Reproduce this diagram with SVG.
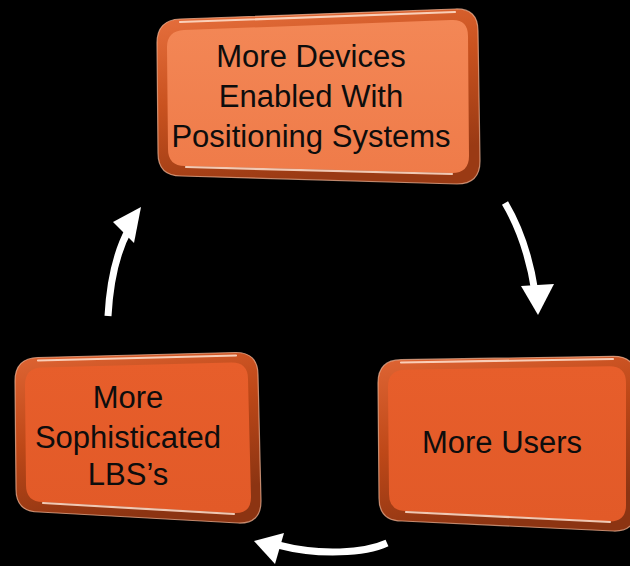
<svg xmlns="http://www.w3.org/2000/svg" width="630" height="566" viewBox="0 0 630 566">
  <defs>
    <linearGradient id="rimTop" x1="0" y1="0" x2="0.35" y2="1">
      <stop offset="0" stop-color="#E8713F"/>
      <stop offset="0.5" stop-color="#C9521F"/>
      <stop offset="1" stop-color="#9A3A14"/>
    </linearGradient>
    <linearGradient id="rimLow" x1="0" y1="0" x2="0.35" y2="1">
      <stop offset="0" stop-color="#DF6534"/>
      <stop offset="0.5" stop-color="#BE4818"/>
      <stop offset="1" stop-color="#8C3412"/>
    </linearGradient>
    <linearGradient id="faceTop" x1="0" y1="0" x2="0" y2="1">
      <stop offset="0" stop-color="#F38756"/>
      <stop offset="1" stop-color="#EF7B49"/>
    </linearGradient>
    <linearGradient id="faceLow" x1="0" y1="0" x2="0" y2="1">
      <stop offset="0" stop-color="#E75E2B"/>
      <stop offset="1" stop-color="#E25A28"/>
    </linearGradient>
  </defs>
  <style>
    .label { font-family: "Liberation Sans", Arial, sans-serif; font-size: 31px; fill: #0d0d0d; text-anchor: middle; }
    .edge { stroke: #F6B898; stroke-width: 1.2; stroke-opacity: 0.7; }
    .gloss { fill: none; stroke: #FFE2D0; stroke-width: 2.2; stroke-opacity: 0.85; stroke-linecap: round; }
    .shaft { fill: none; stroke: #ffffff; stroke-width: 7; stroke-linecap: butt; }
    .head { fill: #ffffff; }
  </style>
  <rect width="630" height="566" fill="#000000"/>

  <g id="connectors">
    <!-- left: up toward the top box -->
    <path class="shaft" d="M108,316 Q111,262 129,229"/>
    <polygon class="head" points="141,207 113,222 134,243"/>
    <!-- right: down toward More Users -->
    <path class="shaft" d="M505,203 Q527,240 535,292"/>
    <polygon class="head" points="538,315 521,286 554,284"/>
    <!-- bottom: left toward the LBS box -->
    <path class="shaft" d="M387,543 C365,553 320,556 278,545"/>
    <polygon class="head" points="254,541 284,533 275,564"/>
  </g>

  <g id="node-devices">
    <path class="edge" fill="url(#rimTop)" d="M180,19 L455,9 Q478,8 478,31 L480,161 Q480,184 457,184 L181,176 Q158,176 158,153 L157,43 Q157,20 180,19 Z"/>
    <path fill="url(#faceTop)" d="M184,30 L451,20 Q468,19 468,36 L469,156 Q469,173 452,173 L185,166 Q168,166 168,149 L167,47 Q167,31 184,30 Z"/>
    <path class="gloss" d="M180,22 L455,12"/>
    <path class="gloss" d="M186,167 L452,174"/>
    <text class="label" x="311" y="67">More Devices</text>
    <text class="label" x="311" y="107">Enabled With</text>
    <text class="label" x="311" y="147">Positioning Systems</text>
  </g>

  <g id="node-users">
    <path class="edge" fill="url(#rimLow)" d="M401,359.7 L613,356.3 Q636,356 636,379 L636,509 Q636,532 613,531 L402,521 Q379,521 379,498 L378,383 Q378,360 401,359.7 Z"/>
    <path fill="url(#faceLow)" d="M405,369.8 L609,366.2 Q626,366 626,383 L626,505 Q626,522 609,521.4 L406,511 Q389,511 389,494 L388,387 Q388,370 405,369.8 Z"/>
    <path class="gloss" d="M401,362.5 L613,359"/>
    <path class="gloss" d="M406,512 L610,522"/>
    <text class="label" x="502" y="453">More Users</text>
  </g>

  <g id="node-lbs">
    <path class="edge" fill="url(#rimLow)" d="M38,357.5 L235,352.5 Q258,352 258,375 L261,501 Q261,524 238,523 L39,512 Q16,512 16,489 L15,381 Q15,358 38,357.5 Z"/>
    <path fill="url(#faceLow)" d="M42,367.6 L231,362.4 Q248,362 248,379 L251,497 Q251,514 234,513 L43,502 Q26,502 26,485 L25,385 Q25,368 42,367.6 Z"/>
    <path class="gloss" d="M38,360.5 L236,355.5"/>
    <path class="gloss" d="M43,503 L234,514"/>
    <text class="label" x="128" y="408">More</text>
    <text class="label" x="128" y="448">Sophisticated</text>
    <text class="label" x="128" y="485">LBS’s</text>
  </g>
</svg>
